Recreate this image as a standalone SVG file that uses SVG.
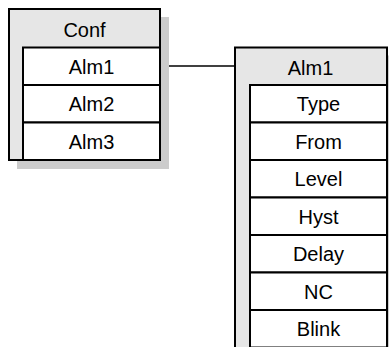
<svg xmlns="http://www.w3.org/2000/svg" width="389" height="347" viewBox="0 0 389 347">
<style>
.shadow{fill:#cccccc;stroke:none}
.outer{fill:#e6e6e6;stroke:#000;stroke-width:2}
.row{fill:#fff;stroke:#000;stroke-width:2}
.t{font-family:"Liberation Sans",Arial,sans-serif;font-size:20px;fill:#000;text-anchor:middle}
.conn{stroke:#000;stroke-width:1.5;fill:none}
</style>
<rect width="389" height="347" fill="#fff"/>
<g id="connectors">
<line class="conn" x1="160" y1="66" x2="235" y2="66"/>
</g>
<g id="conf">
<rect class="shadow" x="17" y="17" width="152" height="152"/>
<rect class="outer" x="9" y="9" width="151" height="151"/>
<text class="t" x="84.5" y="36.5">Conf</text>
<g id="conf-alm1"><rect class="row" x="23" y="47.5" width="137" height="37.5"/><text class="t" x="91.5" y="73.8">Alm1</text></g>
<g id="conf-alm2"><rect class="row" x="23" y="85" width="137" height="37.5"/><text class="t" x="91.5" y="111.3">Alm2</text></g>
<g id="conf-alm3"><rect class="row" x="23" y="122.5" width="137" height="37.5"/><text class="t" x="91.5" y="148.8">Alm3</text></g>
</g>
<g id="alm1">
<rect class="shadow" x="243" y="55.5" width="152" height="310"/>
<rect class="outer" x="235" y="47.5" width="152" height="310"/>
<text class="t" x="310.5" y="75">Alm1</text>
<g id="alm1-type"><rect class="row" x="250" y="85" width="137" height="37.5"/><text class="t" x="318.5" y="111.3">Type</text></g>
<g id="alm1-from"><rect class="row" x="250" y="122.5" width="137" height="37.5"/><text class="t" x="318.5" y="148.8">From</text></g>
<g id="alm1-level"><rect class="row" x="250" y="160" width="137" height="37.5"/><text class="t" x="318.5" y="186.3">Level</text></g>
<g id="alm1-hyst"><rect class="row" x="250" y="197.5" width="137" height="37.5"/><text class="t" x="318.5" y="223.8">Hyst</text></g>
<g id="alm1-delay"><rect class="row" x="250" y="235" width="137" height="37.5"/><text class="t" x="318.5" y="261.3">Delay</text></g>
<g id="alm1-nc"><rect class="row" x="250" y="272.5" width="137" height="37.5"/><text class="t" x="318.5" y="298.8">NC</text></g>
<g id="alm1-blink"><rect class="row" x="250" y="310" width="137" height="37.5"/><text class="t" x="318.5" y="336.3">Blink</text></g>
</g>
</svg>
